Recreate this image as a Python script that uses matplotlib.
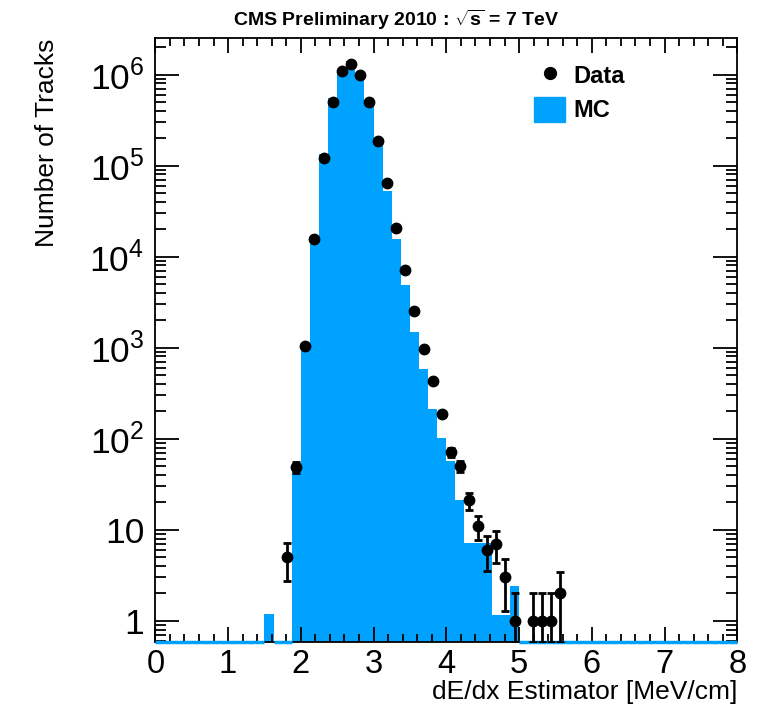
import numpy as np
import matplotlib
matplotlib.use("Agg")
import matplotlib.pyplot as plt
from matplotlib.ticker import FixedLocator, LogLocator, MultipleLocator, NullFormatter
from matplotlib.lines import Line2D
from matplotlib.patches import Patch

plt.rcParams["font.family"] = ["Liberation Sans", "DejaVu Sans"]
plt.rcParams["mathtext.fontset"] = "custom"
plt.rcParams["mathtext.rm"] = "Liberation Sans"
plt.rcParams["mathtext.bf"] = "Liberation Sans:bold"

# %% data: 64 bins of 0.125 MeV/cm between 0 and 8
x_min, x_max, n_bins = 0.0, 8.0, 64

mc_counts = [
    0, 0, 0, 0, 0, 0, 0, 0,
    0, 0, 0, 0, 1.2, 0, 0, 45,
    950, 15500, 135000, 550000, 1130000, 1400000, 1000000, 480000,
    170000, 53000, 15600, 4830, 1500, 580, 213, 103,
    57, 21, 7.1, 7.1, 7.1, 1.15, 1.15, 2.4,
    0, 0, 0, 0, 0, 0, 0, 0,
    0, 0, 0, 0, 0, 0, 0, 0,
    0, 0, 0, 0, 0, 0, 0, 0,
]

data_centers = [
    1.8125, 1.9375, 2.0625, 2.1875, 2.3125, 2.4375, 2.5625, 2.6875,
    2.8125, 2.9375, 3.0625, 3.1875, 3.3125, 3.4375, 3.5625, 3.6875,
    3.8125, 3.9375, 4.0625, 4.1875, 4.3125, 4.4375, 4.5625, 4.6875,
    4.8125, 4.9375, 5.1875, 5.3125, 5.4375, 5.5625,
]
data_counts = [
    5, 49, 1030, 15600, 121000, 500000, 1090000, 1320000,
    1000000, 500000, 188000, 64500, 20600, 7050, 2500, 971,
    425, 187, 71, 50, 21, 11, 6, 7,
    3, 1, 1, 1, 1, 2,
]

y_ticks = [1, 10, 100, 1e3, 1e4, 1e5, 1e6]
y_ticklabels = ["1", "10", "$10^{2}$", "$10^{3}$", "$10^{4}$", "$10^{5}$", "$10^{6}$"]

# %%
y_min, y_max = 0.58, 2.5e6
mc_color = "#00a2ff"

fig = plt.figure(figsize=(7.58, 7.05), dpi=100)
ax = fig.add_axes([0.2049, 0.0889, 0.7678, 0.8568])

edges = np.linspace(x_min, x_max, n_bins + 1)
mc = np.array(mc_counts, dtype=float)
mc_draw = np.where(mc > 0, mc, 1e-3)
ax.stairs(mc_draw, edges, fill=True, color=mc_color, linewidth=0, zorder=1)

# empty bins drawn along the bottom, ROOT style
empty = mc == 0
ax.hlines(np.full(empty.sum(), y_min), edges[:-1][empty], edges[1:][empty],
          color=mc_color, linewidth=2.5, zorder=4, clip_on=False)

dc = np.array(data_counts, dtype=float)
err = np.sqrt(dc)
lo = dc - np.maximum(dc - err, y_min * 1.01)
ax.errorbar(data_centers, dc, yerr=[lo, err], fmt="o", color="black",
            markersize=7.5, elinewidth=2, capsize=3, capthick=2, zorder=5)

ax.set_yscale("log")
ax.set_xlim(x_min, x_max)
ax.set_ylim(y_min, y_max)

ax.xaxis.set_major_locator(MultipleLocator(1))
ax.xaxis.set_minor_locator(MultipleLocator(0.2))
ax.yaxis.set_major_locator(FixedLocator(y_ticks))
ax.set_yticklabels(y_ticklabels)
ax.yaxis.set_minor_locator(LogLocator(base=10, subs=np.arange(2, 10)))
ax.yaxis.set_minor_formatter(NullFormatter())

ax.tick_params(axis="both", which="both", direction="in", top=True, right=True,
               width=1.3, color="black")
ax.tick_params(axis="x", which="major", length=11, labelsize=23.5, pad=5)
ax.tick_params(axis="x", which="minor", length=5.5)
ax.tick_params(axis="y", which="major", length=17, labelsize=25.5, pad=8)
ax.tick_params(axis="y", which="minor", length=8)
for s in ax.spines.values():
    s.set_linewidth(1.3)

ax.set_xlabel("dE/dx Estimator [MeV/cm]", fontsize=19, ha="right", va="top")
ax.xaxis.set_label_coords(1.0, -0.062)
ax.set_ylabel("Number of Tracks", fontsize=19, loc="top", labelpad=22)

fig.text(0.522, 0.972, r"CMS Preliminary 2010 : $\mathbf{\sqrt{s}}$ = 7 TeV",
         ha="center", va="center", fontsize=14, fontweight="bold")

handles = [
    Line2D([], [], marker="o", color="black", linestyle="none", markersize=8.5),
    Patch(facecolor=mc_color, edgecolor=mc_color),
]
ax.legend(handles, ["Data", "MC"], loc="upper left", bbox_to_anchor=(0.615, 0.995),
          frameon=False, prop={"weight": "bold", "size": 17},
          handlelength=1.3, handleheight=1.3, handletextpad=0.35, labelspacing=0.35)

fig.savefig("out.png", dpi=100)
